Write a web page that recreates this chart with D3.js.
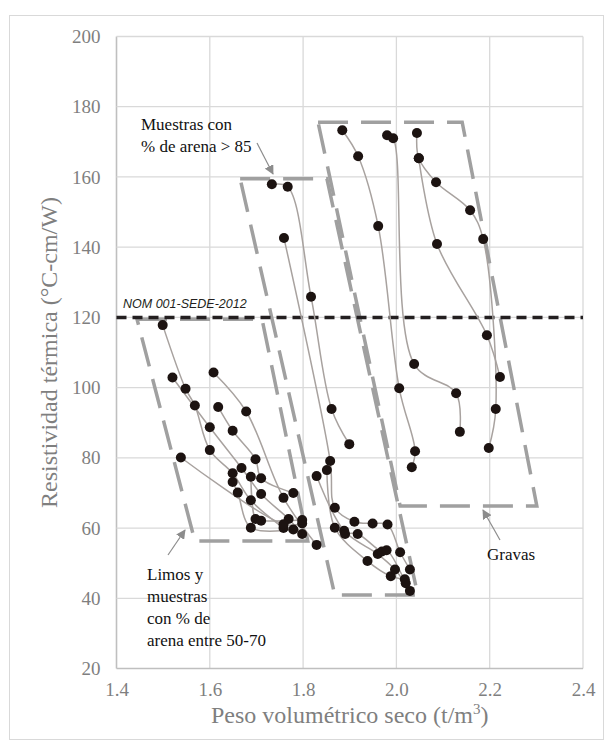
<!DOCTYPE html>
<html><head><meta charset="utf-8">
<script src="https://cdn.jsdelivr.net/npm/d3@7"></script>
<style>html,body{margin:0;padding:0;background:#fff;}svg{display:block;}</style>
</head><body>
<script>
// ---------- data ----------
const xTicks = [1.4, 1.6, 1.8, 2.0, 2.2, 2.4];
const yTicks = [20, 40, 60, 80, 100, 120, 140, 160, 180, 200];
const nomValue = 120;
const nomLabel = "NOM 001-SEDE-2012";
const xTitle = "Peso volumétrico seco (t/m";
const yTitle = "Resistividad térmica (°C-cm/W)";

// Limos y muestras con % de arena entre 50-70
const limosSeries = [
  [[1.499,117.8],[1.548,99.7],[1.568,94.9],[1.600,82.2],[1.649,75.6],[1.688,67.9],[1.758,60.0]],
  [[1.520,102.9],[1.600,88.7],[1.668,77.1],[1.710,69.7],[1.769,62.6],[1.798,58.3]],
  [[1.608,104.3],[1.678,93.2],[1.758,68.6],[1.829,55.2]],
  [[1.618,94.5],[1.649,87.7],[1.698,79.6],[1.710,74.2],[1.779,70.0]],
  [[1.538,80.1],[1.758,61.1],[1.798,61.3]],
  [[1.649,73.1],[1.660,70.1],[1.688,60.1],[1.779,59.6]],
  [[1.688,74.6],[1.698,62.6],[1.710,62.1],[1.798,62.3]]
];
// Muestras con % de arena > 85
const arenaSeries = [
  [[1.733,157.9],[1.767,157.2],[1.817,125.9],[1.861,93.9],[1.899,83.9]],
  [[1.759,142.6],[1.858,79.1],[1.868,65.8],[1.910,61.8],[1.949,61.3],[1.981,61.0],[2.008,53.1],[2.029,48.2]],
  [[1.851,76.5],[1.868,60.1],[1.938,50.6],[1.988,46.3],[2.018,45.4]],
  [[1.829,74.8],[1.888,59.2],[1.960,52.6],[1.997,48.2],[2.029,42.1]],
  [[1.890,58.3],[1.917,58.3],[1.969,53.3],[1.979,53.7],[2.020,44.3]]
];
// Gravas
const gravasSeries = [
  [[1.884,173.3],[1.918,165.9],[1.961,146.0],[2.006,99.8],[2.040,81.9],[2.033,77.3]],
  [[1.980,171.9],[1.993,171.0],[2.038,106.7],[2.128,98.4],[2.136,87.4]],
  [[2.044,172.5],[2.048,165.3],[2.085,158.5],[2.158,150.5],[2.186,142.3],[2.213,93.9],[2.198,82.8]],
  [[2.048,165.3],[2.087,140.9],[2.194,114.9],[2.222,103.0]]
];
// dashed group outlines (data coordinates)
const limosBox  = [[1.444,119.5],[1.712,119.5],[1.810,56.3],[1.568,56.3]];
const arenaBox  = [[1.665,159.5],[1.851,159.5],[2.046,40.9],[1.868,40.9]];
const gravasBox = [[1.832,175.6],[2.141,175.6],[2.301,66.3],[2.008,66.3]];

const arenaLabel  = ["Muestras con", "% de arena > 85"];
const limosLabel  = ["Limos y", "muestras", "con % de", "arena entre 50-70"];
const gravasLabel = ["Gravas"];

// ---------- drawing ----------
const W = 612, H = 745;
const svg = d3.select("body").append("svg").attr("width", W).attr("height", H);
const serif = "'Liberation Serif','Times New Roman',serif";

svg.append("rect").attr("x", 9.5).attr("y", 15.5).attr("width", 594).attr("height", 724)
  .attr("fill", "#fff").attr("stroke", "#d9d9d9").attr("stroke-width", 1);

const x = d3.scaleLinear().domain([1.4, 2.4]).range([116.5, 583]);
const y = d3.scaleLinear().domain([20, 200]).range([668.5, 36.5]);

// grid
const grid = svg.append("g");
grid.selectAll(".gx").data(xTicks).join("line")
  .attr("x1", d => x(d)).attr("x2", d => x(d)).attr("y1", y(20)).attr("y2", y(200))
  .attr("stroke", d => d === 1.4 ? "#bfbfbf" : "#d9d9d9").attr("stroke-width", d => d === 1.4 ? 1.6 : 1.3);
grid.selectAll(".gy").data(yTicks).join("line")
  .attr("x1", x(1.4)).attr("x2", x(2.4)).attr("y1", d => y(d)).attr("y2", d => y(d))
  .attr("stroke", d => d === 20 ? "#bfbfbf" : "#d9d9d9").attr("stroke-width", d => d === 20 ? 1.6 : 1.3);

// axes labels
const ax = svg.append("g").attr("transform", `translate(0,${y(20)})`)
  .call(d3.axisBottom(x).tickValues(xTicks).tickFormat(d3.format(".1f")).tickSize(0).tickPadding(14));
const ay = svg.append("g").attr("transform", `translate(${x(1.4)},0)`)
  .call(d3.axisLeft(y).tickValues(yTicks).tickFormat(d3.format("d")).tickSize(0).tickPadding(16));
[ax, ay].forEach(g => {
  g.select(".domain").remove();
  g.selectAll("text").attr("font-family", serif).attr("font-size", 19).attr("fill", "#7f7f7f");
});

// axis titles
const xt = svg.append("text").attr("x", (x(1.4) + x(2.4)) / 2).attr("y", 723)
  .attr("text-anchor", "middle").attr("font-family", serif).attr("font-size", 24).attr("fill", "#7f7f7f");
xt.append("tspan").text(xTitle);
xt.append("tspan").text("3").attr("font-size", 15).attr("dy", -9);
xt.append("tspan").text(")").attr("dy", 9);
svg.append("text").attr("transform", `translate(57,${(y(20) + y(200)) / 2}) rotate(-90)`)
  .attr("text-anchor", "middle").attr("font-family", serif).attr("font-size", 24).attr("fill", "#7f7f7f")
  .text(yTitle);

// dashed outlines
const boxLine = d3.line().x(d => x(d[0])).y(d => y(d[1])).curve(d3.curveLinearClosed);
[limosBox, arenaBox, gravasBox].forEach(b => {
  svg.append("path").attr("d", boxLine(b)).attr("fill", "none")
    .attr("stroke", "#a0a0a0").attr("stroke-width", 3.5).attr("stroke-dasharray", "30,13");
});

// NOM line
svg.append("line").attr("x1", x(1.4)).attr("x2", x(2.4)).attr("y1", y(nomValue)).attr("y2", y(nomValue))
  .attr("stroke", "#231f20").attr("stroke-width", 3.5).attr("stroke-dasharray", "10,6");
svg.append("text").attr("x", 123).attr("y", y(nomValue) - 9)
  .attr("font-family", "'Liberation Sans',Arial,sans-serif").attr("font-style", "italic")
  .attr("font-size", 12.5).attr("fill", "#231f20").text(nomLabel);

// series lines + markers
const seriesLine = d3.line().x(d => x(d[0])).y(d => y(d[1])).curve(d3.curveCatmullRom.alpha(0.5));
const allSeries = [...limosSeries, ...arenaSeries, ...gravasSeries];
const sg = svg.append("g");
allSeries.forEach(s => {
  sg.append("path").attr("d", seriesLine(s)).attr("fill", "none")
    .attr("stroke", "#a8a29f").attr("stroke-width", 1.5);
});
allSeries.forEach(s => {
  sg.selectAll(null).data(s).join("circle")
    .attr("cx", d => x(d[0])).attr("cy", d => y(d[1])).attr("r", 5).attr("fill", "#1c1311");
});

// annotations
const defs = svg.append("defs");
defs.append("marker").attr("id", "arr").attr("viewBox", "0 0 10 10").attr("refX", 9).attr("refY", 5)
  .attr("markerWidth", 8).attr("markerHeight", 8).attr("orient", "auto-start-reverse")
  .append("path").attr("d", "M0,0 L10,5 L0,10 z").attr("fill", "#8c8c8c");
function arrow(x1, y1, x2, y2) {
  svg.append("line").attr("x1", x1).attr("y1", y1).attr("x2", x2).attr("y2", y2)
    .attr("stroke", "#8c8c8c").attr("stroke-width", 1.2).attr("marker-end", "url(#arr)");
}
function label(lines, x0, y0, lh) {
  const t = svg.append("text").attr("font-family", serif).attr("font-size", 17).attr("fill", "#111");
  lines.forEach((l, i) => t.append("tspan").attr("x", x0).attr("y", y0 + i * lh).text(l));
}
label(arenaLabel, 141, 130, 22);
arrow(257, 143, 273, 174);
label(limosLabel, 147, 580, 22);
arrow(168, 555, 185, 530);
label(gravasLabel, 487, 560, 22);
arrow(500, 540, 483, 510);
</script>
</body></html>
